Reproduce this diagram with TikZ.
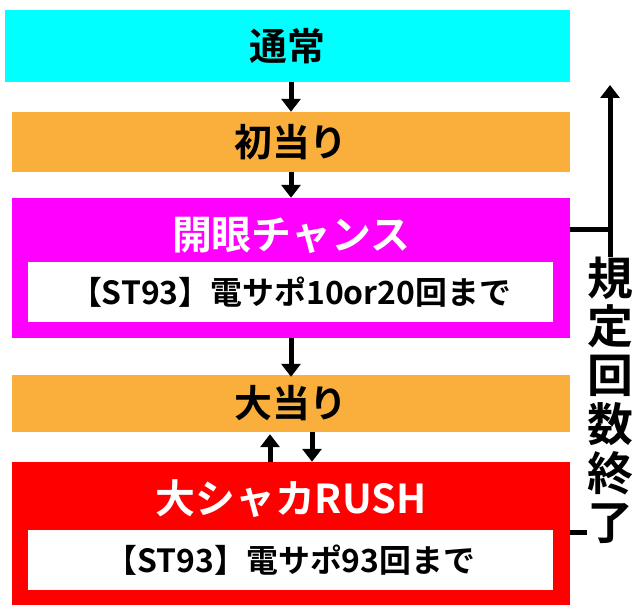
\documentclass[tikz,border=0pt]{standalone}
\usepackage{fontspec}
\newfontfamily\cjk{Noto Sans CJK JP}[BoldFont={Noto Sans CJK JP Bold}]
\usetikzlibrary{arrows.meta}
\definecolor{stagecyan}{RGB}{0,255,255}
\definecolor{stageorange}{RGB}{250,175,60}
\definecolor{stagemagenta}{RGB}{255,0,255}
\definecolor{stagered}{RGB}{255,0,0}
\begin{document}
\begin{tikzpicture}[x=1bp,y=-1bp,
   every node/.style={font=\cjk\bfseries, inner sep=0pt},
   stagebox/.style={minimum width=558bp},
   innerbox/.style={fill=white, minimum width=525bp, minimum height=60bp, font=\cjk\bfseries\fontsize{32}{32}\selectfont},
   flow/.style={line width=5bp, -{Triangle[width=19bp,length=13bp]}}]
\useasboundingbox (0,0) rectangle (640,616);

\node[stagebox, fill=stagecyan, minimum width=565bp, minimum height=72bp, font=\cjk\bfseries\fontsize{38}{38}\selectfont] (normal) at (287.5,46) {通常};
\node[stagebox, fill=stageorange, minimum height=60bp, font=\cjk\bfseries\fontsize{38}{38}\selectfont] (first) at (291,142) {初当り};
\node[stagebox, fill=stagemagenta, minimum height=140bp] (chance) at (291,268) {};
\node[text=white, font=\cjk\bfseries\fontsize{40}{40}\selectfont] (chancet) at (291,235) {開眼チャンス};
\node[innerbox] (chancest) at (290.5,292) {【ST93】電サポ10or20回まで};
\node[stagebox, fill=stageorange, minimum height=57bp, font=\cjk\bfseries\fontsize{38}{38}\selectfont] (big) at (291,403.5) {大当り};
\node[stagebox, fill=stagered, minimum height=143bp] (rush) at (291,533.5) {};
\node[text=white, font=\cjk\bfseries\fontsize{40}{40}\selectfont] (rusht) at (291,499) {大シャカRUSH};
\node[innerbox] (rushst) at (290.5,560) {【ST93】電サポ93回まで};

\draw[flow] (first.north |- normal.south) -- (first.north);
\draw[flow] (first.south) -- (chance.north);
\draw[flow] (chance.south) -- ([yshift=-2bp]big.north);
\draw[flow] ([xshift=-21bp]rush.north) -- ([xshift=-21bp,yshift=-2bp]big.south);
\draw[flow] ([xshift=21bp]big.south) -- ([xshift=21bp]rush.north);

\coordinate (top) at (610,85);
\coordinate (upper) at (610,229);
\coordinate (lower) at (610,532);
\draw[line width=5bp] (chance.east |- upper) -- (upper);
\draw[line width=5bp] (rush.east |- lower) -- (lower);
\draw[flow] (lower) -- (top);
\node[fill=white, align=center, font=\cjk\bfseries\fontsize{46}{49}\selectfont] (ends) at (610,400) {規\\定\\回\\数\\終\\了};
\end{tikzpicture}
\end{document}
